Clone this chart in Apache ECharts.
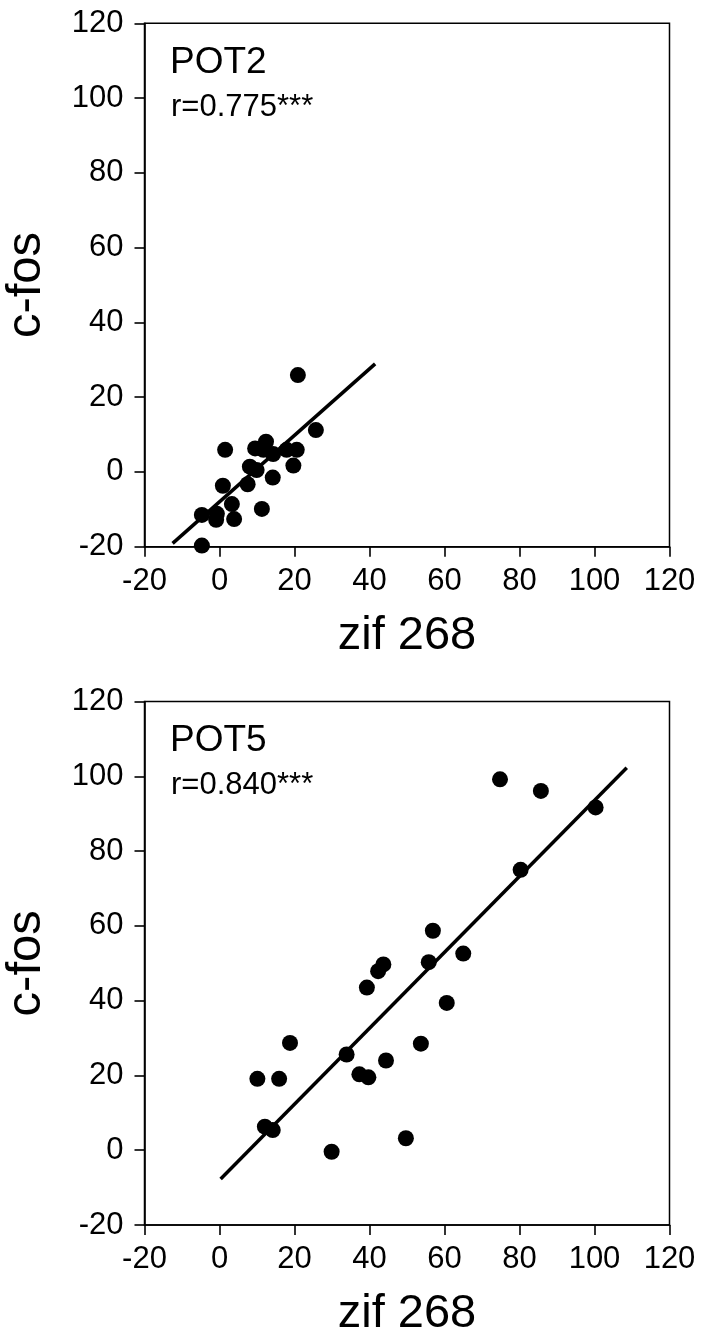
<!DOCTYPE html>
<html>
<head>
<meta charset="utf-8">
<script src="https://cdn.jsdelivr.net/npm/echarts@6/dist/echarts.min.js"></script>
<style>
html,body{margin:0;padding:0;background:#fff;}
#chart{width:705px;height:1332px;}
</style>
</head>
<body>
<div id="chart"></div>
<script>
// ---- data ----
const axisMin = -20, axisMax = 120, axisStep = 20;
const xTitle = 'zif 268';
const yTitle = 'c-fos';

const pot2Label = 'POT2';
const pot2R = 'r=0.775***';
const pot2X = [20.9, 25.7, 12.4, 1.5, 9.5, 11.7, 14.3, 17.9, 20.6, 19.7, 8.1, 9.9, 14.2, 0.9, 7.5, 3.3, 11.3, -4.7, -0.7, -0.9, 3.9, -4.7];
const pot2Y = [25.9, 11.2, 8.1, 5.9, 6.3, 5.9, 4.8, 5.9, 5.9, 1.7, 1.4, 0.5, -1.5, -3.7, -3.3, -8.6, -9.9, -11.5, -11.2, -12.8, -12.6, -19.7];
const pot2FitX = [-12.5, 41.5];
const pot2FitY = [-19.1, 28.9];

const pot5Label = 'POT5';
const pot5R = 'r=0.840***';
const pot5X = [74.8, 85.7, 100.3, 80.3, 56.9, 65.0, 55.8, 43.7, 42.3, 39.3, 60.6, 18.8, 53.7, 33.9, 44.4, 37.3, 39.7, 10.1, 15.9, 12.1, 14.2, 49.7, 29.9];
const pot5Y = [99.2, 96.1, 91.7, 75.0, 58.7, 52.6, 50.3, 49.7, 47.9, 43.5, 39.4, 28.7, 28.5, 25.6, 24.0, 20.3, 19.5, 19.1, 19.1, 6.3, 5.4, 3.2, -0.4];
const pot5FitX = [0.3, 108.6];
const pot5FitY = [-7.7, 102.3];

// ---- chart ----
const FONT = '"Liberation Sans", Arial, Helvetica, sans-serif';
const pairs = (xs, ys) => xs.map((x, i) => [x, ys[i]]);

const grids = [
  {left: 144.5, right: 35.5, top: 23.3, height: 523.4},
  {left: 144.5, right: 35.5, top: 701.6, height: 523.4}
].map(g => Object.assign({show: true, containLabel: false, outerBoundsMode: 'none',
  borderColor: '#000', borderWidth: 1.5, backgroundColor: 'transparent'}, g));

function xAxis(i) {
  return {
    gridIndex: i, type: 'value', min: axisMin, max: axisMax, interval: axisStep,
    name: xTitle, nameLocation: 'middle', nameGap: 66,
    nameTextStyle: {fontSize: 47, color: '#000', fontFamily: FONT},
    axisLine: {show: true, onZero: false, lineStyle: {color: '#000', width: 1.6}},
    axisTick: {show: true, inside: false, length: 10, lineStyle: {color: '#000', width: 1.6}},
    axisLabel: {show: true, fontSize: 31, color: '#000', fontFamily: FONT, margin: 19, showMinLabel: true, showMaxLabel: true},
    splitLine: {show: false}
  };
}
function yAxis(i) {
  return {
    gridIndex: i, type: 'value', min: axisMin, max: axisMax, interval: axisStep,
    name: yTitle, nameLocation: 'middle', nameGap: 94, nameRotate: 90,
    nameTextStyle: {fontSize: 49, color: '#000', fontFamily: FONT},
    axisLine: {show: true, onZero: false, lineStyle: {color: '#000', width: 1.6}},
    axisTick: {show: true, inside: false, length: 10, lineStyle: {color: '#000', width: 1.6}},
    axisLabel: {show: true, fontSize: 31, color: '#000', fontFamily: FONT, margin: 21, showMinLabel: true, showMaxLabel: true},
    splitLine: {show: false}
  };
}

function scatter(i, xs, ys) {
  return {type: 'scatter', xAxisIndex: i, yAxisIndex: i, data: pairs(xs, ys),
    symbol: 'circle', symbolSize: 16, itemStyle: {color: '#000', opacity: 1}, silent: true, z: 3};
}
function fit(i, xs, ys) {
  return {type: 'line', xAxisIndex: i, yAxisIndex: i, data: pairs(xs, ys),
    showSymbol: false, lineStyle: {color: '#000', width: 3.5}, silent: true, z: 2};
}

const tStyle = (size) => ({fontSize: size, fontWeight: 'normal', color: '#000', fontFamily: FONT});

const chart = echarts.init(document.getElementById('chart'), null, {renderer: 'canvas'});
chart.setOption({
  backgroundColor: '#fff',
  animation: false,
  grid: grids,
  xAxis: [xAxis(0), xAxis(1)],
  yAxis: [yAxis(0), yAxis(1)],
  title: [
    {text: pot2Label, left: 170, top: 44, padding: 0, textStyle: tStyle(37)},
    {text: pot2R, left: 171, top: 92, padding: 0, textStyle: tStyle(31)},
    {text: pot5Label, left: 170, top: 722, padding: 0, textStyle: tStyle(37)},
    {text: pot5R, left: 171, top: 770, padding: 0, textStyle: tStyle(31)}
  ],
  series: [
    fit(0, pot2FitX, pot2FitY), scatter(0, pot2X, pot2Y),
    fit(1, pot5FitX, pot5FitY), scatter(1, pot5X, pot5Y)
  ]
});
</script>
</body>
</html>
